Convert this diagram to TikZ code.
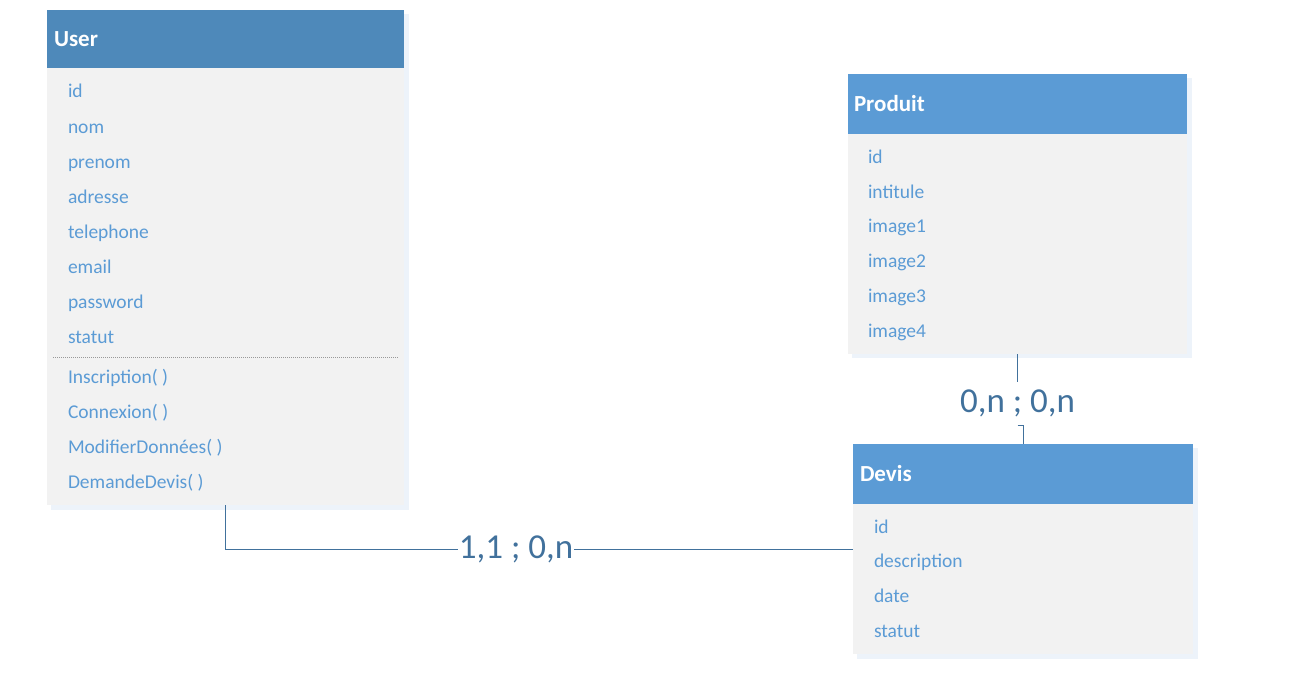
\documentclass[tikz,border=0pt]{standalone}
\usepackage{fontspec}
\setmainfont{Carlito}
\usetikzlibrary{positioning}

\definecolor{headdark}{HTML}{4E89BA}
\definecolor{headblue}{HTML}{5B9BD5}
\definecolor{bodygrey}{HTML}{F2F2F2}
\definecolor{shadowblue}{HTML}{EDF3FA}
\definecolor{attrblue}{HTML}{5B9BD5}
\definecolor{cardblue}{HTML}{41719C}

\begin{document}
\begin{tikzpicture}[x=1pt, y=-1pt,
  every node/.style={inner sep=0pt, outer sep=0pt},
  head/.style={anchor=north west, fill=headblue, minimum height=60pt},
  body/.style={anchor=north west, fill=bodygrey},
  title/.style={text=white, font=\fontsize{23}{27}\selectfont\bfseries},
  attr/.style={anchor=base west, text=attrblue, font=\fontsize{19.5}{23}\selectfont},
  card/.style={text=cardblue, font=\fontsize{35}{40}\selectfont,
    text height=23pt, text depth=6pt, inner xsep=1pt},
  link/.style={draw=cardblue, line width=0.8pt}
]

\useasboundingbox (0,0) rectangle (1310,681);

% --- shadows ---
\fill[shadowblue] (51,14) rectangle (409,510);
\fill[shadowblue] (852,78) rectangle (1192,358);
\fill[shadowblue] (857,448) rectangle (1198,659);

% --- User ---
\node[body, minimum width=357pt, minimum height=437pt] (userbody) at (47,68) {};
\node[head, fill=headdark, minimum width=357pt, minimum height=58pt] (userhead) at (47,10) {};
\node[title, right=7pt of userhead.west] (usertitle) {User};

\node[attr] (u1) at (68,97.5) {id};
\node[attr] (u2) at (68,133.5) {nom};
\node[attr] (u3) at (68,168.5) {prenom};
\node[attr] (u4) at (68,203.5) {adresse};
\node[attr] (u5) at (68,238.5) {telephone};
\node[attr] (u6) at (68,273.5) {email};
\node[attr] (u7) at (68,308.5) {password};
\node[attr] (u8) at (68,343.5) {statut};

\draw[gray!80, line width=0.6pt, dash pattern=on 1.2pt off 0.8pt] (53,357) -- (398,357);

\node[attr] (m1) at (68,383.5) {Inscription( )};
\node[attr] (m2) at (68,418.5) {Connexion( )};
\node[attr] (m3) at (68,453.5) {ModifierDonnées( )};
\node[attr] (m4) at (68,488.5) {DemandeDevis( )};

% --- Produit ---
\node[body, minimum width=339pt, minimum height=220pt] (produitbody) at (848,134) {};
\node[head, minimum width=339pt] (produithead) at (848,74) {};
\node[title, right=6pt of produithead.west] (produittitle) {Produit};

\node[attr] (p1) at (868,163.5) {id};
\node[attr] (p2) at (868,198.5) {intitule};
\node[attr] (p3) at (868,232.5) {image1};
\node[attr] (p4) at (868,267.5) {image2};
\node[attr] (p5) at (868,302.5) {image3};
\node[attr] (p6) at (868,337.5) {image4};

% --- Devis ---
\node[body, minimum width=340pt, minimum height=150pt] (devisbody) at (853,504) {};
\node[head, minimum width=340pt] (devishead) at (853,444) {};
\node[title, right=7pt of devishead.west] (devistitle) {Devis};

\node[attr] (d1) at (874,533.5) {id};
\node[attr] (d2) at (874,567.5) {description};
\node[attr] (d3) at (874,602.5) {date};
\node[attr] (d4) at (874,637.5) {statut};

% --- cardinalities ---
\node[card] (userdevis) at (516,549.5) {1,1 ; 0,n};
\node[card, minimum height=43pt] (produitdevis) at (1017.5,403.5) {0,n ; 0,n};

\draw[link] (userbody.south) |- (userdevis.west);
\draw[link] (userdevis.east) -- (userdevis.east -| devisbody.west);
\draw[link] (produitbody.south) -- (produitdevis.north);
\draw[link] (produitdevis.south) -| (devishead.north);

\end{tikzpicture}
\end{document}
